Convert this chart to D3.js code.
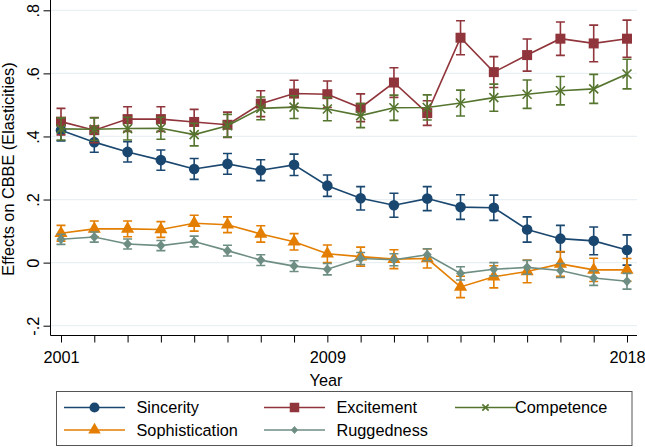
<!DOCTYPE html>
<html><head><meta charset="utf-8">
<script src="https://cdn.jsdelivr.net/npm/d3@7"></script>
<style>body{margin:0;background:#fff}svg{display:block;font-family:"Liberation Sans",Arial,sans-serif}</style>
</head><body><svg id="c" width="645" height="447"></svg>
<script>
const years = d3.range(2001, 2019);
const seriesNames = ["Sincerity","Excitement","Competence","Sophistication","Ruggedness"];
const sincerity = [0.420,0.382,0.351,0.325,0.297,0.313,0.293,0.310,0.244,0.204,0.182,0.203,0.176,0.174,0.105,0.076,0.069,0.040];
const sincerityErr = [0.034,0.032,0.032,0.032,0.033,0.033,0.033,0.034,0.034,0.037,0.038,0.038,0.039,0.040,0.040,0.042,0.044,0.048];
const excitement = [0.447,0.420,0.455,0.455,0.446,0.437,0.504,0.536,0.534,0.491,0.571,0.474,0.713,0.604,0.658,0.710,0.695,0.710];
const excitementErr = [0.042,0.040,0.039,0.039,0.040,0.040,0.041,0.042,0.042,0.044,0.047,0.039,0.054,0.049,0.051,0.053,0.058,0.059];
const competence = [0.424,0.423,0.425,0.426,0.406,0.434,0.489,0.493,0.487,0.466,0.491,0.492,0.506,0.523,0.534,0.545,0.551,0.598];
const competenceErr = [0.035,0.036,0.036,0.035,0.036,0.036,0.036,0.036,0.037,0.038,0.040,0.040,0.041,0.043,0.045,0.045,0.046,0.047];
const sophistication = [0.093,0.107,0.107,0.105,0.125,0.120,0.091,0.066,0.028,0.019,0.011,0.013,-0.077,-0.045,-0.028,-0.004,-0.023,-0.023];
const sophisticationErr = [0.025,0.025,0.025,0.025,0.025,0.025,0.026,0.026,0.028,0.030,0.030,0.030,0.034,0.035,0.036,0.039,0.037,0.036];
const ruggedness = [0.074,0.081,0.059,0.054,0.067,0.038,0.008,-0.011,-0.021,0.013,0.009,0.025,-0.034,-0.021,-0.015,-0.025,-0.049,-0.059];
const ruggednessErr = [0.016,0.016,0.016,0.016,0.017,0.017,0.017,0.017,0.018,0.019,0.019,0.019,0.021,0.021,0.022,0.022,0.023,0.025];
const yTicks = [-0.2, 0, 0.2, 0.4, 0.6, 0.8];
const yTickLabels = ["-.2","0",".2",".4",".6",".8"];
const xTickLabels = [2001, 2009, 2018];
const colors = ["#1a476f","#90353b","#55752f","#e37e00","#6e8e84"];
const symbols = ["circle","square","x","triangle","diamond"];

const FS = 16.3;
const svg = d3.select("#c");
const x = d3.scaleLinear().domain([2001, 2018]).range([61, 627]);
const y = d3.scaleLinear().domain([-0.2, 0.8]).range([325.7, 10.3]);
const left = 50.5, right = 637, bottom = 335.5;

// gridlines
svg.append("g").selectAll("line").data(yTicks).join("line")
  .attr("x1", left).attr("x2", right).attr("y1", d=>y(d)).attr("y2", d=>y(d))
  .attr("stroke", "#e8f0f3").attr("stroke-width", 1.3);

// axes
const yAxis = d3.axisLeft(y).tickValues(yTicks).tickFormat((d,i)=>yTickLabels[i]).tickSize(7);
const gy = svg.append("g").attr("transform", `translate(${left},0)`).call(yAxis);
gy.select(".domain").attr("d", `M0,0V${bottom}`).attr("stroke","#000").attr("stroke-width",1);
gy.selectAll(".tick line").attr("stroke","#000");
gy.selectAll(".tick text").attr("text-anchor","middle")
  .attr("font-size", FS).attr("fill","#000")
  .attr("x", null).attr("dy", null)
  .attr("transform", `translate(-11.5,0) rotate(-90)`);

const xAxis = d3.axisBottom(x).tickValues(years).tickFormat(d => xTickLabels.includes(d) ? d : "").tickSize(7);
const gx = svg.append("g").attr("transform", `translate(0,${bottom})`).call(xAxis);
gx.select(".domain").attr("d", `M${left},0H${right}`).attr("stroke","#000");
gx.selectAll(".tick line").attr("stroke","#000");
gx.selectAll(".tick text").attr("font-size", FS).attr("fill","#000").attr("y", 27.5).attr("dy", null);

// titles
svg.append("text").attr("x", 326).attr("y", 386).attr("text-anchor","middle").attr("font-size",FS).text("Year");
svg.append("text").attr("transform","translate(14,169) rotate(-90)").attr("text-anchor","middle").attr("font-size",FS).text("Effects on CBBE (Elasticities)");

const vals = [sincerity, excitement, competence, sophistication, ruggedness];
const errs = [sincerityErr, excitementErr, competenceErr, sophisticationErr, ruggednessErr];

function drawMarker(g, type, cx, cy, color, scale=1) {
  if (type === "circle") g.append("circle").attr("cx",cx).attr("cy",cy).attr("r",5.3*scale).attr("fill",color);
  else if (type === "square") g.append("rect").attr("x",cx-5*scale).attr("y",cy-5*scale).attr("width",10*scale).attr("height",10*scale).attr("fill",color);
  else if (type === "triangle") g.append("path").attr("d", d3.symbol().type(d3.symbolTriangle).size(75*scale*scale)()).attr("transform",`translate(${cx},${cy})`).attr("fill",color);
  else if (type === "diamond") g.append("path").attr("d", `M0,${-5*scale}L${4.5*scale},0L0,${5*scale}L${-4.5*scale},0Z`).attr("transform",`translate(${cx},${cy})`).attr("fill",color);
  else if (type === "x") { const s=4.5*scale; g.append("path").attr("d",`M${-s},${-s}L${s},${s}M${-s},${s}L${s},${-s}`).attr("transform",`translate(${cx},${cy})`).attr("stroke",color).attr("stroke-width",1.6).attr("fill","none"); }
}

const line = d3.line().x(d=>x(d[0])).y(d=>y(d[1]));
vals.forEach((v, si) => {
  const g = svg.append("g");
  const c = colors[si];
  const e = errs[si];
  const eg = g.append("g").attr("stroke", c).attr("stroke-width", 1.6).attr("fill","none");
  years.forEach((yr, i) => {
    const xx = x(yr), hi = y(v[i]+e[i]), lo = y(v[i]-e[i]);
    eg.append("path").attr("d", `M${xx},${hi}V${lo}M${xx-4.5},${hi}H${xx+4.5}M${xx-4.5},${lo}H${xx+4.5}`);
  });
  g.append("path").datum(years.map((yr,i)=>[yr, v[i]])).attr("d", line).attr("fill","none").attr("stroke", c).attr("stroke-width", 1.6);
  years.forEach((yr, i) => drawMarker(g, symbols[si], x(yr), y(v[i]), c));
});

// legend
const lg = svg.append("g");
lg.append("rect").attr("x", 56.5).attr("y", 391.5).attr("width", 575.5).attr("height", 54).attr("fill","#fff").attr("stroke","#555").attr("stroke-width",1);
const legendPos = [[64,407.5],[264,407.5],[455,407.5],[64,430],[264,430]];
seriesNames.forEach((n, i) => {
  const [lx, ly] = legendPos[i];
  lg.append("line").attr("x1", lx).attr("x2", lx+61).attr("y1", ly).attr("y2", ly).attr("stroke", colors[i]).attr("stroke-width",1.6);
  drawMarker(lg, symbols[i], lx+30.5, ly, colors[i], i===2?0.7:(i===4?0.8:0.95));
  lg.append("text").attr("x", i===2 ? lx+60 : lx+72.5).attr("y", ly).attr("dy","0.36em").attr("font-size",FS).text(n);
});
</script></body></html>
